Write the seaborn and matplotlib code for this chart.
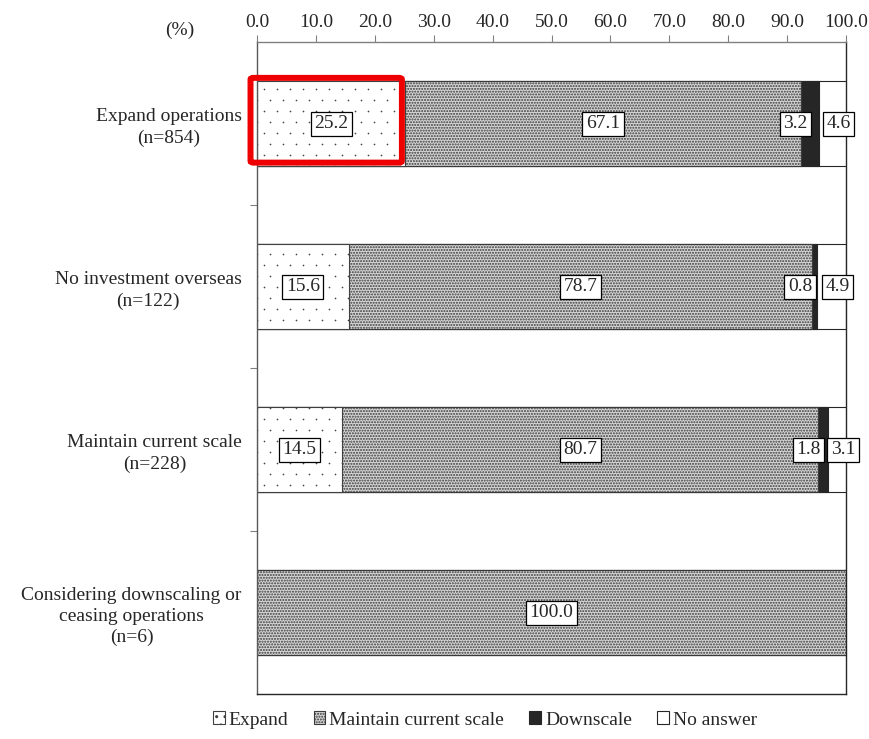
import matplotlib
matplotlib.use("Agg")
import matplotlib.pyplot as plt
import matplotlib.patches as mpatches
import seaborn as sns
import pandas as pd
import numpy as np

categories = ["Expand operations\n(n=854)", "No investment overseas\n(n=122)",
              "Maintain current scale\n(n=228)", "Considering downscaling or\nceasing operations\n(n=6)"]
series = ["Expand", "Maintain current scale", "Downscale", "No answer"]
expand = [25.2, 15.6, 14.5, 0.0]
maintain = [67.1, 78.7, 80.7, 100.0]
downscale = [3.2, 0.8, 1.8, 0.0]
no_answer = [4.6, 4.9, 3.1, 0.0]
xticks = [0, 10, 20, 30, 40, 50, 60, 70, 80, 90, 100]

sns.set_theme(style="white")
plt.rcParams['font.family'] = ['Liberation Serif', 'DejaVu Serif']
plt.rcParams['hatch.linewidth'] = 1.0
FS = 14

fig = plt.figure(figsize=(8.69, 7.39), dpi=100)
ax = fig.add_axes([257/869, 1-694/739, (846-257)/869, (694-42)/739])

vals = np.array([expand, maintain, downscale, no_answer])
cum = np.cumsum(vals, axis=0)
styles = [
    dict(facecolor="white", hatch=None, edgecolor="#404040"),
    dict(facecolor="#d6d6d6", hatch="......", edgecolor="#3a3a3a"),
    dict(facecolor="#262626", hatch=None, edgecolor="#262626"),
    dict(facecolor="white", hatch=None, edgecolor="#262626"),
]
layer_patches = {}
for i in range(3, -1, -1):
    df = pd.DataFrame({"cat": categories, "val": cum[i]})
    n_before = len(ax.patches)
    sns.barplot(data=df, y="cat", x="val", orient="h", ax=ax, width=0.52,
                color=styles[i]["facecolor"], saturation=1, errorbar=None)
    layer_patches[i] = list(ax.patches[n_before:])
    for p in layer_patches[i]:
        p.set_facecolor(styles[i]["facecolor"])
        p.set_edgecolor(styles[i]["edgecolor"])
        p.set_linewidth(0.8)
        if styles[i]["hatch"]:
            p.set_hatch(styles[i]["hatch"])

# sparse dot texture for the "Expand" segments (clipped to each bar)
gx = np.arange(0, 1.0, 13/589)
gy = np.arange(0, 1.0, 11/652)
GX, GY = np.meshgrid(gx, gy)
GX = GX + (np.arange(len(gy))[:, None] % 2) * (6.5/589)
for p in layer_patches[0]:
    if p.get_width() <= 0:
        continue
    sc = ax.scatter(GX.ravel(), GY.ravel(), s=1.5, color="#444444",
                    transform=ax.transAxes, zorder=p.get_zorder() + 0.1,
                    linewidths=0)
    sc.set_clip_path(p)

# value labels
offsets = [0.0, 0.0, -2.5, 1.0]
for j in range(len(categories)):
    for i in range(4):
        v = vals[i][j]
        if v <= 0:
            continue
        start = cum[i][j] - v
        end = min(cum[i][j], 100)
        xc = (start + end) / 2 + offsets[i]
        ax.text(xc, j, f"{v:.1f}", ha="center", va="center", fontsize=FS,
                bbox=dict(boxstyle="square,pad=0.18", facecolor="white",
                          edgecolor="black", linewidth=0.9), zorder=5)

# red highlight
rect = mpatches.FancyBboxPatch((-1.1, -0.28), 25.7, 0.52,
                               boxstyle="round,pad=0,rounding_size=0.5",
                               fill=False, edgecolor="#ee0000", linewidth=4.3,
                               clip_on=False, zorder=6, mutation_aspect=0.02)
ax.add_patch(rect)

ax.set_xlim(0, 100)
ax.set_ylim(3.5, -0.5)
ax.xaxis.tick_top()
ax.set_xticks(xticks)
ax.set_xticklabels([f"{t:.1f}" for t in xticks], fontsize=FS)
ax.tick_params(axis="x", which="major", direction="out", length=5, width=0.8,
               color="#808080", top=True, bottom=False, pad=3)
ax.set_yticks(range(len(categories)))
ax.set_yticklabels(categories, fontsize=FS, linespacing=1.3)
ax.tick_params(axis="y", which="major", length=0, pad=11)
ax.set_yticks([0.5, 1.5, 2.5], minor=True)
ax.tick_params(axis="y", which="minor", direction="out", length=5, width=0.8,
               color="#808080", left=True)
for lab in ax.get_yticklabels():
    lab.set_horizontalalignment("right")
    lab.set_multialignment("center")
ax.set_xlabel("")
ax.set_ylabel("")
for s in ["top", "bottom", "left", "right"]:
    ax.spines[s].set_visible(True)
    ax.spines[s].set_linewidth(1.0)
ax.spines["top"].set_color("#808080")
ax.spines["left"].set_color("#595959")
ax.spines["right"].set_color("#262626")
ax.spines["bottom"].set_color("#262626")

fig.text(180/869, 1-30/739, "(%)", ha="center", va="center", fontsize=FS)

handles = [mpatches.Patch(facecolor="white", edgecolor="#404040", hatch="..", linewidth=0.8)]
handles += [mpatches.Patch(facecolor=st["facecolor"], edgecolor=st["edgecolor"],
                           hatch=st["hatch"], linewidth=0.8) for st in styles[1:]]
fig.legend(handles, series, loc="center", bbox_to_anchor=(485/869, 1-720/739),
           ncol=4, frameon=False, fontsize=FS, handlelength=0.6,
           handleheight=0.6, handletextpad=0.2, columnspacing=1.3)

fig.savefig("out.png", dpi=100)
